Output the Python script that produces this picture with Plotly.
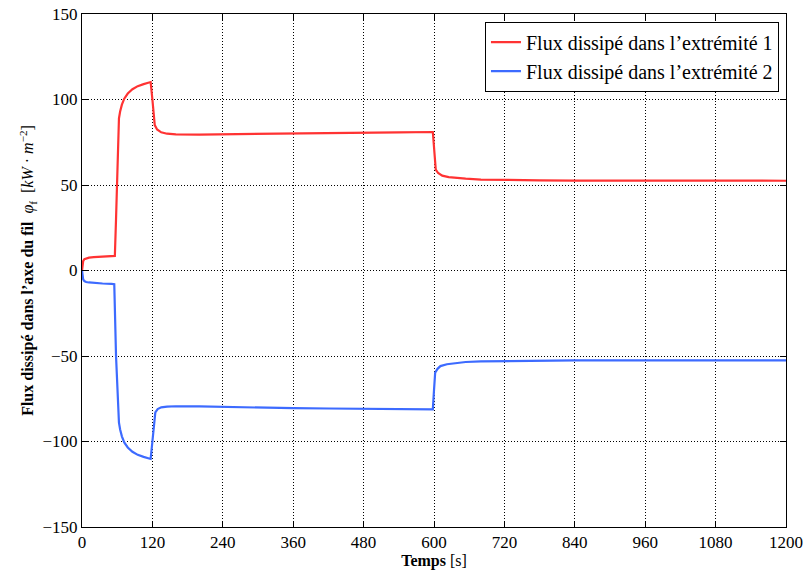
import plotly.graph_objects as go

# Extremity 1 (red)
t_red = [0, 1, 2, 4, 7, 12, 20, 35, 50, 56, 58, 60, 62, 63, 65, 68, 72, 78, 86, 95, 105, 113, 117,
         120, 124, 128, 135, 145, 160, 200, 240, 300, 360, 420, 480, 540, 598,
         600, 603, 607, 614, 625, 640, 654, 680, 719, 780, 840, 960, 1080, 1200]
flux_red = [0, 3.5, 5.5, 6.6, 7.1, 7.5, 7.8, 8.1, 8.3, 8.5, 30, 60, 84, 89, 93, 97, 100.5, 103.5, 106, 107.8, 109, 109.8, 110.2,
            100, 85, 82.5, 80.8, 80.0, 79.6, 79.5, 79.7, 79.9, 80.2, 80.4, 80.6, 80.8, 81.0,
            72, 59, 57, 55.5, 54.6, 54.0, 53.7, 53.2, 52.9, 52.7, 52.6, 52.5, 52.5, 52.5]

# Extremity 2 (blue)
t_blue = [0, 1, 2, 4, 7, 12, 20, 35, 50, 55, 58, 60, 62, 63, 65, 68, 72, 78, 86, 95, 105, 113, 117,
          120, 125, 129, 135, 145, 160, 200, 240, 300, 360, 420, 480, 540, 598,
          600, 602, 606, 611, 622, 638, 654, 680, 719, 780, 840, 960, 1080, 1200]
flux_blue = [0, -3.5, -5.2, -6.2, -6.7, -7.0, -7.3, -7.6, -7.8, -8.0, -50, -70, -86, -89, -93, -97, -100.5, -103.5, -106, -107.8, -109, -109.8, -110.2,
             -100, -83, -81, -80.0, -79.6, -79.4, -79.5, -79.8, -80.2, -80.5, -80.7, -80.9, -81.1, -81.2,
             -70, -59.7, -57.5, -55.9, -54.8, -54.0, -53.5, -53.1, -52.9, -52.7, -52.6, -52.5, -52.5, -52.5]

x_ticks = [0, 120, 240, 360, 480, 600, 720, 840, 960, 1080, 1200]
y_ticks = [-150, -100, -50, 0, 50, 100, 150]

FONT = "Liberation Serif"

fig = go.Figure()
fig.add_trace(go.Scatter(x=t_red, y=flux_red, mode="lines",
                         line=dict(color="#ff3333", width=2.2),
                         name="Flux dissipé dans l’extrémité 1"))
fig.add_trace(go.Scatter(x=t_blue, y=flux_blue, mode="lines",
                         line=dict(color="#3d6bff", width=2.2),
                         name="Flux dissipé dans l’extrémité 2"))

axis_common = dict(
    showline=True, linecolor="black", linewidth=1, mirror="allticks",
    ticks="inside", ticklen=6, tickcolor="black", tickwidth=1,
    showgrid=True, gridcolor="black", gridwidth=1, griddash="1px,2px",
    zeroline=False, tickfont=dict(family=FONT, size=17, color="black"),
    automargin=False, ticklabeloverflow="allow",
)

fig.update_xaxes(range=[0, 1200], tickvals=x_ticks, ticktext=[str(v) for v in x_ticks],
                 title=dict(text="<b>Temps</b> [s]", font=dict(family=FONT, size=16, color="black"), standoff=2),
                 **axis_common)
fig.update_yaxes(range=[-150, 150], tickvals=y_ticks,
                 ticktext=[("−" + str(-v)) if v < 0 else str(v) for v in y_ticks],
                 title=dict(text="<b>Flux dissipé dans l’axe du fil</b>  <i>φ</i><sub>f</sub>  [<i>kW</i> · <i>m</i><sup>−2</sup>]",
                            font=dict(family=FONT, size=16, color="black"), standoff=4),
                 **axis_common)

fig.update_layout(
    width=806, height=570,
    margin=dict(l=82, r=20, t=14, b=43),
    plot_bgcolor="white", paper_bgcolor="white",
    showlegend=True,
    legend=dict(x=0.99, y=0.985, xanchor="right", yanchor="top",
                bgcolor="white", bordercolor="black", borderwidth=1,
                font=dict(family=FONT, size=20, color="black"),
                tracegroupgap=0),
    font=dict(family=FONT),
)

# remove the default 8px page margin so the figure fills the window exactly
fig.write_html("out.html",
               config={"displayModeBar": False},
               post_script="document.body.style.margin='0px';document.body.style.overflow='hidden';")
